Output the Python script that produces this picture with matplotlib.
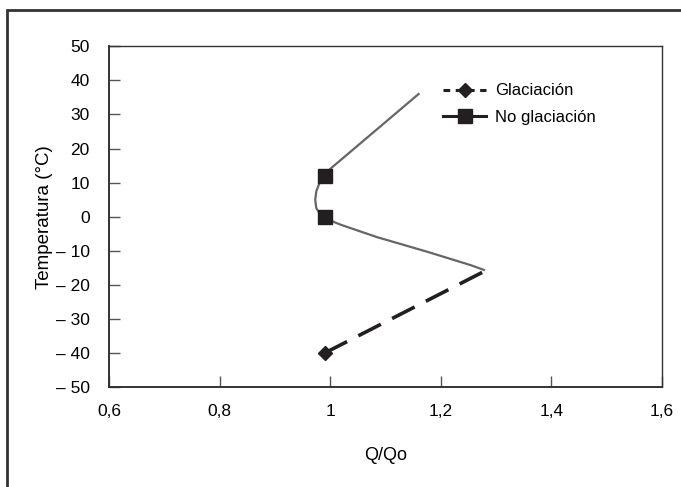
import matplotlib.pyplot as plt
from matplotlib.lines import Line2D
from matplotlib.patches import Rectangle

plt.rcParams["font.family"] = ["Liberation Sans", "DejaVu Sans"]

# ----------------------------------------
# DATA
# ----------------------------------------

no_glac_x = [1.16, 1.00, 0.99, 0.981, 0.975, 0.973, 0.975, 0.981, 0.99,
             1.00, 1.02, 1.085, 1.176, 1.254, 1.278]
no_glac_y = [36, 14, 12, 10, 7.5, 5, 2.5, 1, 0,
             -1.1, -2.4, -6.0, -10.3, -14.2, -15.6]
no_glac_marks = [2, 8]

glac_x = [0.99, 1.285]
glac_y = [-40, -15.5]

x_ticks = [0.6, 0.8, 1.0, 1.2, 1.4, 1.6]
x_labels = ["0,6", "0,8", "1", "1,2", "1,4", "1,6"]
y_ticks = [50, 40, 30, 20, 10, 0, -10, -20, -30, -40, -50]
y_labels = ["50", "40", "30", "20", "10", "0", "– 10", "– 20", "– 30", "– 40", "– 50"]

# ----------------------------------------
# PLOT
# ----------------------------------------

fig = plt.figure(figsize=(6.81, 4.87), dpi=100)

# outer frame (only left and top edges fall inside the image)
fig.patches.append(Rectangle(
    (7 / 681, -0.1), 1.2, 1.1 - 10 / 487,
    transform=fig.transFigure, fill=False,
    edgecolor="#333333", linewidth=2
))

ax = fig.add_axes([0.160, 0.205, 0.812, 0.700])

ax.plot(no_glac_x, no_glac_y, color="#666666", linewidth=1.6)
ax.plot(
    [no_glac_x[i] for i in no_glac_marks],
    [no_glac_y[i] for i in no_glac_marks],
    linestyle="none", marker="s", markersize=10.5, color="#231f20"
)

ax.plot(glac_x, glac_y, color="#231f20", linewidth=2.6,
        dashes=(7, 3.5))
ax.plot(glac_x[:1], glac_y[:1], linestyle="none", marker="D",
        markersize=7, color="#231f20")

ax.set_xlim(0.6, 1.6)
ax.set_ylim(-50, 50)

ax.set_xticks(x_ticks)
ax.set_xticklabels(x_labels)
ax.set_yticks(y_ticks)
ax.set_yticklabels(y_labels)

ax.tick_params(axis="both", direction="in", length=8, width=1,
               color="#555555", labelsize=12.5)
ax.tick_params(axis="x", pad=12)
ax.tick_params(axis="y", pad=14)

for s in ax.spines.values():
    s.set_color("#333333")
    s.set_linewidth(1)
ax.spines["left"].set_linewidth(1.4)
ax.spines["bottom"].set_linewidth(1.4)

ax.set_xlabel("Q/Qo", fontsize=13, labelpad=20)
ax.set_ylabel("Temperatura (°C)", fontsize=13.5, labelpad=2)

handles = [
    Line2D([], [], color="#231f20", linewidth=2.2, dashes=(2.2, 1.8),
           marker="D", markersize=7.5),
    Line2D([], [], color="#231f20", linewidth=2.2,
           marker="s", markersize=10.5),
]
ax.legend(handles, ["Glaciación", "No glaciación"],
          loc="upper left", bbox_to_anchor=(0.577, 0.935),
          frameon=False, fontsize=12, handlelength=2.6,
          handletextpad=0.5, labelspacing=0.7)

plt.savefig("out.png", dpi=100)
